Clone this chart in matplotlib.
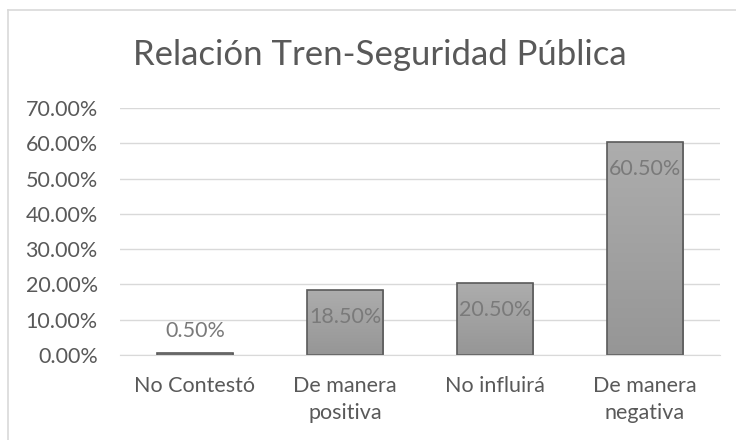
import matplotlib
matplotlib.use("Agg")
import matplotlib.pyplot as plt
import numpy as np
from matplotlib.lines import Line2D
from matplotlib.ticker import FuncFormatter

plt.rcParams['font.family'] = ['Lato', 'DejaVu Sans']

categorias = ["No Contestó", "De manera\npositiva", "No influirá", "De manera\nnegativa"]
porcentajes = [0.005, 0.185, 0.205, 0.605]
etiquetas = ["0.50%", "18.50%", "20.50%", "60.50%"]

gris_texto = "#595959"
tam = 15.5

fig = plt.figure(figsize=(7.36, 4.4), dpi=100)
ax = fig.add_axes([120/736, 1-355/440, 600/736, (355-108)/440])

x = np.arange(len(categorias))
barras = ax.bar(x, porcentajes, width=0.51, color="#a0a0a0", edgecolor="#5a5a5a", linewidth=1.2, zorder=3)

# degradado dentro de cada barra
grad = np.linspace(0, 1, 256).reshape(-1, 1)
cmap = matplotlib.colors.LinearSegmentedColormap.from_list("g", ["#969696", "#adadad"])
for b in barras:
    x0, y0 = b.get_x(), b.get_y()
    w, h = b.get_width(), b.get_height()
    im = ax.imshow(grad, cmap=cmap, extent=[x0, x0 + w, y0, y0 + h], origin="lower",
                   aspect="auto", zorder=3.5)
    im.set_clip_path(b)
    b.set_facecolor("none")
    b.set_zorder(4)

ax.set_xlim(-0.5, 3.5)
ax.set_ylim(0, 0.70)
ax.set_yticks(np.arange(0, 0.71, 0.10))
ax.yaxis.set_major_formatter(FuncFormatter(lambda v, p: f"{v*100:.2f}%"))
ax.grid(axis="y", color="#d9d9d9", linewidth=1, zorder=0)
for s in ["top", "right", "left"]:
    ax.spines[s].set_visible(False)
ax.spines["bottom"].set_color("#d9d9d9")
ax.spines["bottom"].set_zorder(5)
ax.tick_params(axis="both", length=0, labelsize=tam, colors=gris_texto)
ax.tick_params(axis="y", pad=16)
ax.tick_params(axis="x", pad=15)
ax.set_xticks(x)
ax.set_xticklabels(categorias, linespacing=1.45)

for i, (v, t) in enumerate(zip(porcentajes, etiquetas)):
    if v < 0.05:
        ax.annotate(t, (i, v), xytext=(0, 16), textcoords="offset points", ha="center",
                    va="center", fontsize=tam, color="#7a7a7a", zorder=6)
    else:
        ax.annotate(t, (i, v), xytext=(0, -20), textcoords="offset points", ha="center",
                    va="center", fontsize=tam, color="#7a7a7a", zorder=6)

fig.text(380/736, 1-55/440, "Relación Tren-Seguridad Pública", ha="center", va="center",
         fontsize=25, color=gris_texto)

# borde del área del gráfico
fig.add_artist(Line2D([8/736, 8/736], [0, 1-10/440], color="#d9d9d9", linewidth=1.2))
fig.add_artist(Line2D([8/736, 1], [1-10/440, 1-10/440], color="#d9d9d9", linewidth=1.2))

fig.savefig("out.png", dpi=100)
